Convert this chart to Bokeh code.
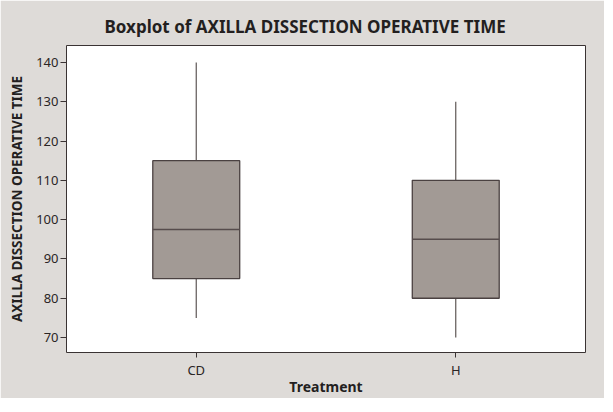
from bokeh.plotting import figure
from bokeh.models import FactorRange, Range1d, FixedTicker
from bokeh.transform import dodge
from bokeh.embed import file_html
from bokeh.resources import INLINE

# Data
categories = ["CD", "H"]
whisker_low = [75, 70]
q1 = [85, 80]
median = [97.5, 95]
q3 = [115, 110]
whisker_high = [140, 130]
y_ticks = [70, 80, 90, 100, 110, 120, 130, 140]

BG = "#dedbd8"
FONT = "Noto Sans"
BOX_W = 0.335

p = figure(
    frame_width=519, frame_height=307,
    x_range=FactorRange(*categories, range_padding=0),
    y_range=Range1d(66.2, 144.3),
    output_backend="svg", toolbar_location=None,
    title="Boxplot of AXILLA DISSECTION OPERATIVE TIME",
    min_border_left=66, min_border_right=19,
    min_border_top=45, min_border_bottom=46,
)
p.x_range.range_padding = 0
p.background_fill_color = "white"
p.border_fill_color = BG
p.outline_line_color = "#3a3333"
p.outline_line_width = 1
p.grid.visible = False

p.title.align = "left"
p.title.offset = 38
p.title.standoff = 16
p.title.text_font = FONT
p.title.text_font_size = "17px"
p.title.text_font_style = "bold"
p.title.text_color = "#231f1f"

# whiskers
p.segment(x0=categories, y0=q3, x1=categories, y1=whisker_high, line_color="#5e5755", line_width=1.2)
p.segment(x0=categories, y0=whisker_low, x1=categories, y1=q1, line_color="#5e5755", line_width=1.2)
# boxes
p.vbar(x=categories, width=BOX_W, bottom=q1, top=q3, fill_color="#a29a95",
       line_color="#4a4141", line_width=1.3)
# medians
src = dict(cat=categories, med=median)
p.segment(x0=dodge("cat", -BOX_W / 2, range=p.x_range), y0="med",
          x1=dodge("cat", BOX_W / 2, range=p.x_range), y1="med",
          source=src, line_color="#564c4c", line_width=1.5)

for ax in (p.xaxis, p.yaxis):
    ax.axis_line_color = None
    ax.major_tick_line_color = "#3a3333"
    ax.major_tick_in = 0
    ax.minor_tick_line_color = None
    ax.major_label_text_font = FONT
    ax.major_label_text_font_size = "13px"
    ax.major_label_text_color = "#2a2525"
    ax.axis_label_text_font = FONT
    ax.axis_label_text_font_style = "bold"
    ax.axis_label_text_color = "#231f1f"

p.yaxis.ticker = FixedTicker(ticks=y_ticks)
p.yaxis.major_tick_out = 6
p.yaxis.axis_label = "AXILLA DISSECTION OPERATIVE TIME"
p.yaxis.axis_label_text_font_size = "13.5px"
p.yaxis.major_label_standoff = 2
p.yaxis.axis_label_standoff = 7
p.xaxis.axis_label = "Treatment"
p.xaxis.major_tick_out = 5
p.xaxis.axis_label_text_font_size = "14px"
p.xaxis.major_label_standoff = 3
p.xaxis.axis_label_standoff = -5

open("out.html", "w").write(file_html(p, INLINE))
